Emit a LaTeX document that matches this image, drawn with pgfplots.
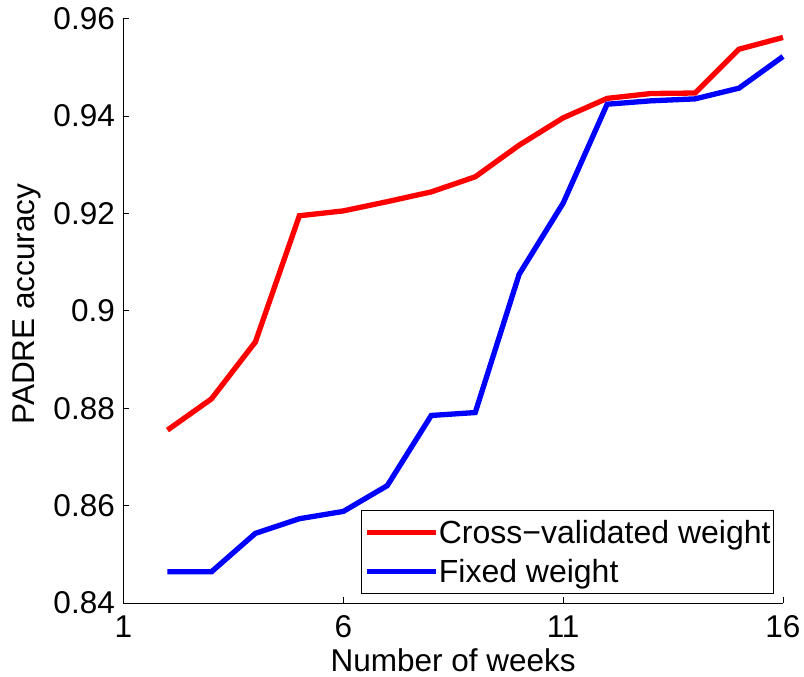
\documentclass[border=0pt]{standalone}
\usepackage{pgfplots}
\pgfplotsset{compat=1.18}
\usepackage{fontspec}
\setmainfont{Liberation Sans}
\begin{document}
\begin{tikzpicture}
\useasboundingbox (-123.5pt,-74pt) rectangle (680.5pt,603pt);
\begin{axis}[
  anchor=south west, at={(0,0)},
  scale only axis,
  width=659.5pt, height=584.5pt,
  xmin=1, xmax=16, ymin=0.84, ymax=0.96,
  xtick={1,6,11,16},
  ytick={0.84,0.86,0.88,0.9,0.92,0.94,0.96},
  axis x line*=bottom, axis y line*=left,
  axis line style={line width=0.9pt},
  tick style={black, line width=0.6pt},
  major tick length=5.5pt,
  tick align=inside,
  /pgf/number format/assume math mode=true,
  font=\fontsize{31.5}{36}\selectfont,
  xticklabel style={font=\fontsize{31.5}{36}\selectfont, anchor=base, inner sep=0pt, yshift=-35pt},
  yticklabel style={font=\fontsize{31.5}{36}\selectfont, anchor=east, inner sep=0pt, xshift=-8.5pt},
  xlabel={Number of weeks},
  ylabel={PADRE accuracy},
  xlabel style={font=\fontsize{31.5}{36}\selectfont, at={(axis description cs:0.5,-0.118)}, anchor=base, inner sep=0pt},
  ylabel style={font=\fontsize{31.5}{36}\selectfont, at={(axis description cs:-0.1342,0.5116)}, anchor=base, inner sep=0pt, rotate=0},
  legend style={at={(axis description cs:0.9864,0.0154)}, anchor=south east, draw=black, line width=0.9pt,
    inner xsep=3pt, inner ysep=2.5pt, row sep=0pt, column sep=0pt,
    nodes={font=\fontsize{32}{36}\selectfont, text height=25pt, text depth=4pt, inner ysep=5pt, inner xsep=0pt},
    cells={anchor=west}},
  legend image code/.code={\path (0pt,0pt) -- (69.5pt,0pt); \draw[#1, line width=5.3pt] (11.2pt,0pt) -- (58pt,0pt);},
  clip=false,
]
\addplot[red, line width=5.3pt] coordinates {
(2,0.8755) (3,0.8819) (4,0.8936) (5,0.9195) (6,0.9205) (7,0.9224) (8,0.9244)
(9,0.9275) (10,0.934) (11,0.9396) (12,0.9436) (13,0.9446) (14,0.9447) (15,0.9537) (16,0.9561)};
\addlegendentry{Cross\textminus validated weight}
\addplot[blue, line width=5.3pt] coordinates {
(2,0.8464) (3,0.8464) (4,0.8543) (5,0.8573) (6,0.8588) (7,0.8641) (8,0.8785)
(9,0.8791) (10,0.9075) (11,0.9221) (12,0.9424) (13,0.9431) (14,0.9435) (15,0.9457) (16,0.9522)};
\addlegendentry{Fixed weight}
\end{axis}
\end{tikzpicture}
\end{document}
